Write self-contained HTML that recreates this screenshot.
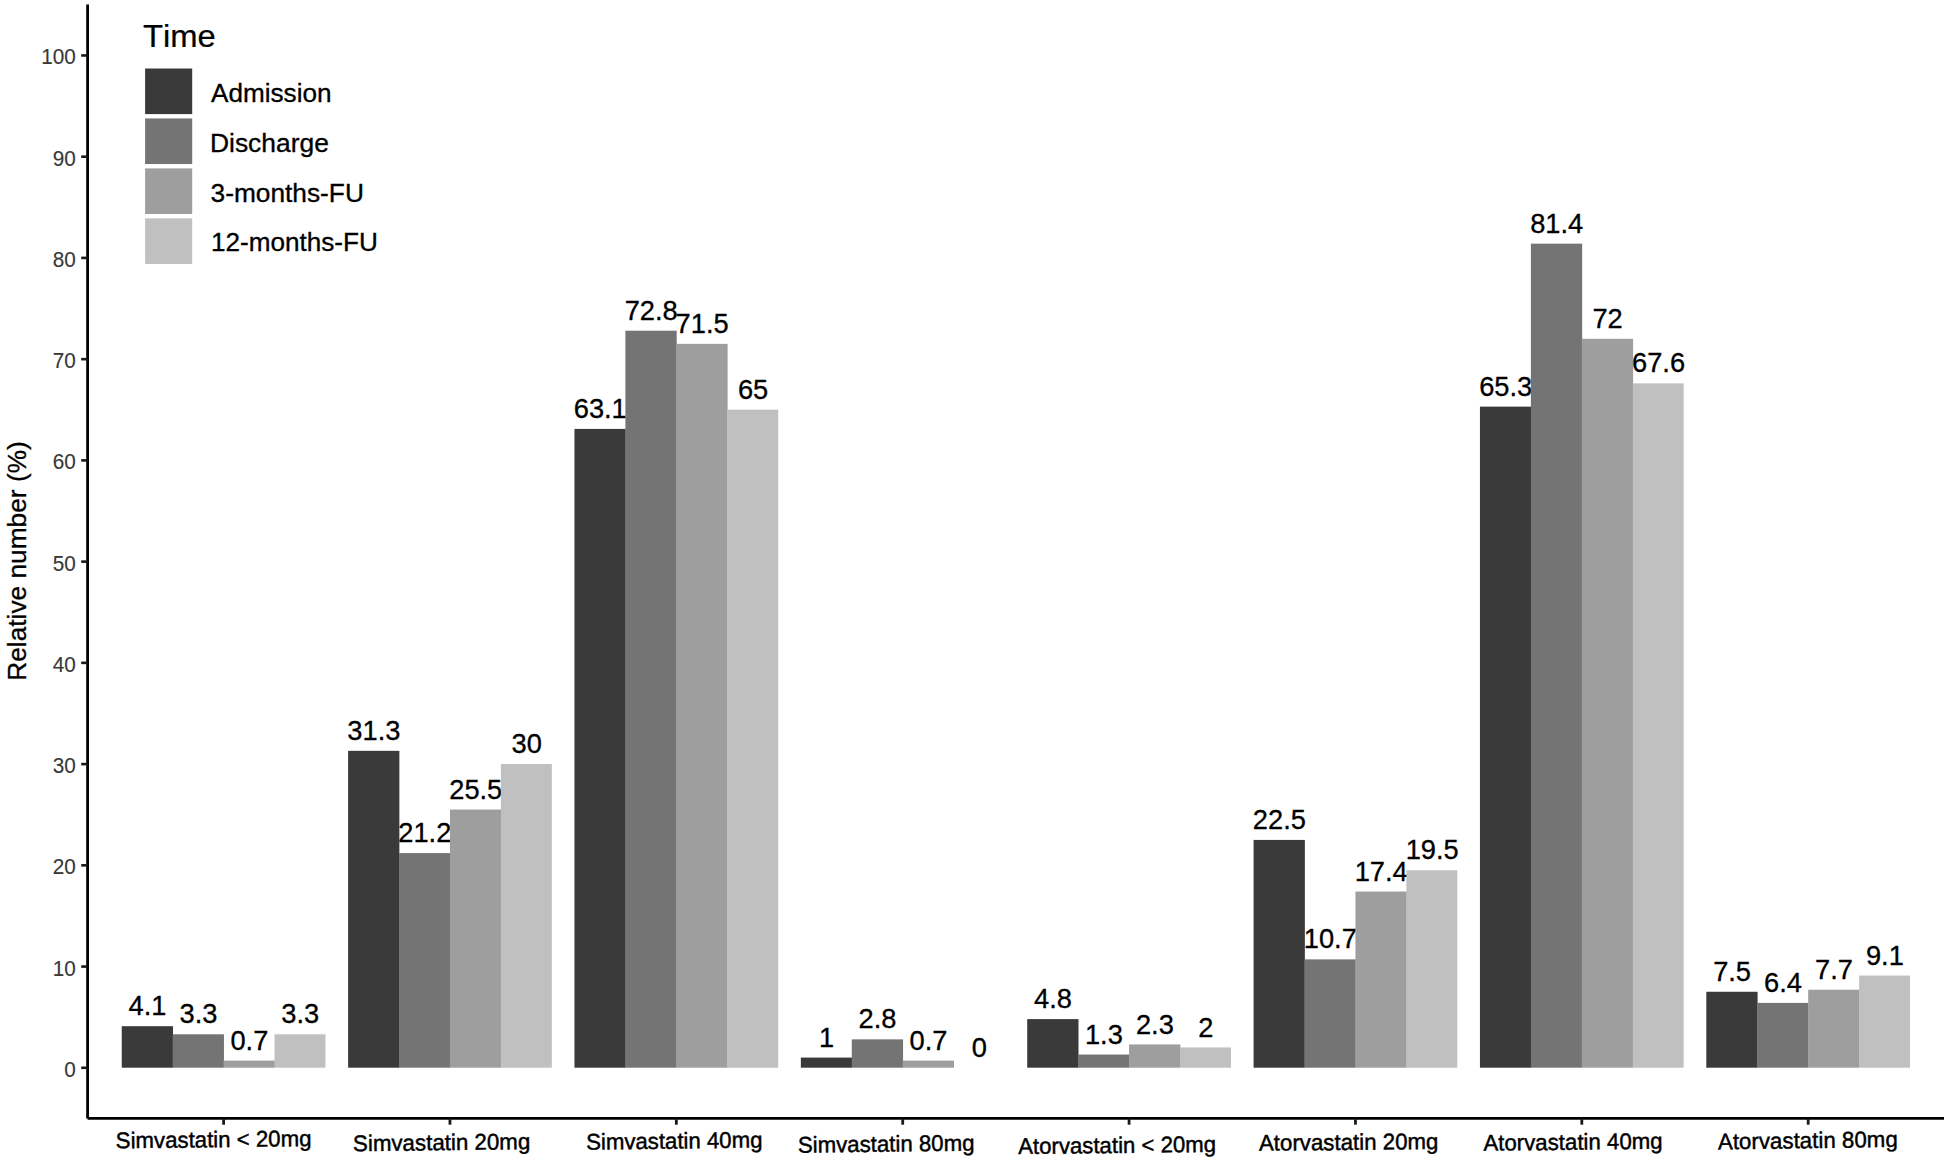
<!DOCTYPE html>
<html><head><meta charset="utf-8"><title>Statin dose chart</title>
<style>
html,body{margin:0;padding:0;background:#fff;}
body{width:1948px;height:1164px;overflow:hidden;}
svg{display:block;font-family:"Liberation Sans",Arial,Helvetica,sans-serif;font-kerning:none;}
.tk{font-size:22.9px;fill:#383838;text-anchor:end;stroke:#383838;stroke-width:0.15px;}
text{stroke:#000;stroke-width:0.32px;stroke-linejoin:round;}
.xl{font-size:22.7px;fill:#000;stroke-width:0.45px;}
.dl{font-size:27.0px;fill:#000;text-anchor:middle;}
.lg{font-size:25.3px;fill:#000;}
</style></head><body>
<svg width="1948" height="1164" viewBox="0 0 1948 1164">
<rect width="1948" height="1164" fill="#fff"/>
<rect x="121.73" y="1026.19" width="51.28" height="41.51" fill="#3a3a3a"/>
<text class="dl" transform="translate(147.50,1015.29) scale(1.01,1)">4.1</text>
<rect x="172.67" y="1034.29" width="51.28" height="33.41" fill="#747474"/>
<text class="dl" transform="translate(198.43,1023.39) scale(1.01,1)">3.3</text>
<rect x="223.60" y="1060.61" width="51.28" height="7.09" fill="#9e9e9e"/>
<text class="dl" transform="translate(249.37,1049.71) scale(1.01,1)">0.7</text>
<rect x="274.53" y="1034.29" width="50.93" height="33.41" fill="#c0c0c0"/>
<text class="dl" transform="translate(300.30,1023.39) scale(1.01,1)">3.3</text>
<rect x="348.10" y="750.83" width="51.28" height="316.87" fill="#3a3a3a"/>
<text class="dl" transform="translate(373.87,739.93) scale(1.01,1)">31.3</text>
<rect x="399.04" y="853.08" width="51.28" height="214.62" fill="#747474"/>
<text class="dl" transform="translate(424.80,842.18) scale(1.01,1)">21.2</text>
<rect x="449.97" y="809.55" width="51.28" height="258.15" fill="#9e9e9e"/>
<text class="dl" transform="translate(475.74,798.65) scale(1.01,1)">25.5</text>
<rect x="500.90" y="764.00" width="50.93" height="303.70" fill="#c0c0c0"/>
<text class="dl" transform="translate(526.67,753.10) scale(1.01,1)">30</text>
<rect x="574.47" y="428.91" width="51.28" height="638.79" fill="#3a3a3a"/>
<text class="dl" transform="translate(600.24,418.01) scale(1.01,1)">63.1</text>
<rect x="625.41" y="330.71" width="51.28" height="736.99" fill="#747474"/>
<text class="dl" transform="translate(651.17,319.81) scale(1.01,1)">72.8</text>
<rect x="676.34" y="343.87" width="51.28" height="723.83" fill="#9e9e9e"/>
<text class="dl" transform="translate(702.11,332.97) scale(1.01,1)">71.5</text>
<rect x="727.27" y="409.67" width="50.93" height="658.03" fill="#c0c0c0"/>
<text class="dl" transform="translate(753.04,398.77) scale(1.01,1)">65</text>
<rect x="800.84" y="1057.58" width="51.28" height="10.12" fill="#3a3a3a"/>
<text class="dl" transform="translate(826.61,1046.68) scale(1.01,1)">1</text>
<rect x="851.78" y="1039.35" width="51.28" height="28.35" fill="#747474"/>
<text class="dl" transform="translate(877.54,1028.45) scale(1.01,1)">2.8</text>
<rect x="902.71" y="1060.61" width="51.28" height="7.09" fill="#9e9e9e"/>
<text class="dl" transform="translate(928.48,1049.71) scale(1.01,1)">0.7</text>
<text class="dl" transform="translate(979.41,1056.80) scale(1.01,1)">0</text>
<rect x="1027.21" y="1019.11" width="51.28" height="48.59" fill="#3a3a3a"/>
<text class="dl" transform="translate(1052.98,1008.21) scale(1.01,1)">4.8</text>
<rect x="1078.15" y="1054.54" width="51.28" height="13.16" fill="#747474"/>
<text class="dl" transform="translate(1103.91,1043.64) scale(1.01,1)">1.3</text>
<rect x="1129.08" y="1044.42" width="51.28" height="23.28" fill="#9e9e9e"/>
<text class="dl" transform="translate(1154.85,1033.52) scale(1.01,1)">2.3</text>
<rect x="1180.01" y="1047.45" width="50.93" height="20.25" fill="#c0c0c0"/>
<text class="dl" transform="translate(1205.78,1036.55) scale(1.01,1)">2</text>
<rect x="1253.58" y="839.92" width="51.28" height="227.78" fill="#3a3a3a"/>
<text class="dl" transform="translate(1279.35,829.02) scale(1.01,1)">22.5</text>
<rect x="1304.52" y="959.38" width="51.28" height="108.32" fill="#747474"/>
<text class="dl" transform="translate(1330.28,948.48) scale(1.01,1)">10.7</text>
<rect x="1355.45" y="891.55" width="51.28" height="176.15" fill="#9e9e9e"/>
<text class="dl" transform="translate(1381.22,880.65) scale(1.01,1)">17.4</text>
<rect x="1406.38" y="870.29" width="50.93" height="197.41" fill="#c0c0c0"/>
<text class="dl" transform="translate(1432.15,859.39) scale(1.01,1)">19.5</text>
<rect x="1479.95" y="406.64" width="51.28" height="661.06" fill="#3a3a3a"/>
<text class="dl" transform="translate(1505.72,395.74) scale(1.01,1)">65.3</text>
<rect x="1530.89" y="243.65" width="51.28" height="824.05" fill="#747474"/>
<text class="dl" transform="translate(1556.65,232.75) scale(1.01,1)">81.4</text>
<rect x="1581.82" y="338.81" width="51.28" height="728.89" fill="#9e9e9e"/>
<text class="dl" transform="translate(1607.59,327.91) scale(1.01,1)">72</text>
<rect x="1632.75" y="383.35" width="50.93" height="684.35" fill="#c0c0c0"/>
<text class="dl" transform="translate(1658.52,372.45) scale(1.01,1)">67.6</text>
<rect x="1706.32" y="991.77" width="51.28" height="75.93" fill="#3a3a3a"/>
<text class="dl" transform="translate(1732.09,980.87) scale(1.01,1)">7.5</text>
<rect x="1757.26" y="1002.91" width="51.28" height="64.79" fill="#747474"/>
<text class="dl" transform="translate(1783.02,992.01) scale(1.01,1)">6.4</text>
<rect x="1808.19" y="989.75" width="51.28" height="77.95" fill="#9e9e9e"/>
<text class="dl" transform="translate(1833.96,978.85) scale(1.01,1)">7.7</text>
<rect x="1859.12" y="975.58" width="50.93" height="92.12" fill="#c0c0c0"/>
<text class="dl" transform="translate(1884.89,964.68) scale(1.01,1)">9.1</text>
<line x1="87.60" y1="4.6" x2="87.60" y2="1118.40" stroke="#000" stroke-width="2.8"/>
<line x1="87.60" y1="1118.40" x2="1944.00" y2="1118.40" stroke="#000" stroke-width="2.8"/>
<line x1="81.20" y1="1067.80" x2="87.60" y2="1067.80" stroke="#1a1a1a" stroke-width="2.6"/>
<text class="tk" transform="translate(75.7,1076.80) scale(0.905,1)">0</text>
<line x1="81.20" y1="966.57" x2="87.60" y2="966.57" stroke="#1a1a1a" stroke-width="2.6"/>
<text class="tk" transform="translate(75.7,975.57) scale(0.905,1)">10</text>
<line x1="81.20" y1="865.33" x2="87.60" y2="865.33" stroke="#1a1a1a" stroke-width="2.6"/>
<text class="tk" transform="translate(75.7,874.33) scale(0.905,1)">20</text>
<line x1="81.20" y1="764.10" x2="87.60" y2="764.10" stroke="#1a1a1a" stroke-width="2.6"/>
<text class="tk" transform="translate(75.7,773.10) scale(0.905,1)">30</text>
<line x1="81.20" y1="662.86" x2="87.60" y2="662.86" stroke="#1a1a1a" stroke-width="2.6"/>
<text class="tk" transform="translate(75.7,671.86) scale(0.905,1)">40</text>
<line x1="81.20" y1="561.63" x2="87.60" y2="561.63" stroke="#1a1a1a" stroke-width="2.6"/>
<text class="tk" transform="translate(75.7,570.63) scale(0.905,1)">50</text>
<line x1="81.20" y1="460.39" x2="87.60" y2="460.39" stroke="#1a1a1a" stroke-width="2.6"/>
<text class="tk" transform="translate(75.7,469.39) scale(0.905,1)">60</text>
<line x1="81.20" y1="359.16" x2="87.60" y2="359.16" stroke="#1a1a1a" stroke-width="2.6"/>
<text class="tk" transform="translate(75.7,368.16) scale(0.905,1)">70</text>
<line x1="81.20" y1="257.92" x2="87.60" y2="257.92" stroke="#1a1a1a" stroke-width="2.6"/>
<text class="tk" transform="translate(75.7,266.92) scale(0.905,1)">80</text>
<line x1="81.20" y1="156.69" x2="87.60" y2="156.69" stroke="#1a1a1a" stroke-width="2.6"/>
<text class="tk" transform="translate(75.7,165.69) scale(0.905,1)">90</text>
<line x1="81.20" y1="55.45" x2="87.60" y2="55.45" stroke="#1a1a1a" stroke-width="2.6"/>
<text class="tk" transform="translate(75.7,64.45) scale(0.905,1)">100</text>
<line x1="223.60" y1="1118.40" x2="223.60" y2="1124.7" stroke="#1a1a1a" stroke-width="2.8"/>
<text class="xl" transform="translate(115.82,1148.35) rotate(-0.66) scale(0.9788,1)">Simvastatin &lt; 20mg</text>
<line x1="449.97" y1="1118.40" x2="449.97" y2="1124.7" stroke="#1a1a1a" stroke-width="2.8"/>
<text class="xl" transform="translate(353.06,1151.20) rotate(-0.66) scale(0.9829,1)">Simvastatin 20mg</text>
<line x1="676.34" y1="1118.40" x2="676.34" y2="1124.7" stroke="#1a1a1a" stroke-width="2.8"/>
<text class="xl" transform="translate(586.17,1149.70) rotate(-0.72) scale(0.9784,1)">Simvastatin 40mg</text>
<line x1="902.71" y1="1118.40" x2="902.71" y2="1124.7" stroke="#1a1a1a" stroke-width="2.8"/>
<text class="xl" transform="translate(797.97,1152.70) rotate(-0.68) scale(0.9790,1)">Simvastatin 80mg</text>
<line x1="1129.08" y1="1118.40" x2="1129.08" y2="1124.7" stroke="#1a1a1a" stroke-width="2.8"/>
<text class="xl" transform="translate(1018.24,1154.10) rotate(-0.66) scale(0.9782,1)">Atorvastatin &lt; 20mg</text>
<line x1="1355.45" y1="1118.40" x2="1355.45" y2="1124.7" stroke="#1a1a1a" stroke-width="2.8"/>
<text class="xl" transform="translate(1258.95,1150.75) rotate(-0.55) scale(0.9816,1)">Atorvastatin 20mg</text>
<line x1="1581.82" y1="1118.40" x2="1581.82" y2="1124.7" stroke="#1a1a1a" stroke-width="2.8"/>
<text class="xl" transform="translate(1483.45,1150.75) rotate(-0.66) scale(0.9805,1)">Atorvastatin 40mg</text>
<line x1="1808.19" y1="1118.40" x2="1808.19" y2="1124.7" stroke="#1a1a1a" stroke-width="2.8"/>
<text class="xl" transform="translate(1718.05,1149.40) rotate(-0.78) scale(0.9827,1)">Atorvastatin 80mg</text>
<text transform="translate(26.2,680.82) rotate(-90) scale(1.0116,1)" font-size="26.0px" fill="#000">Relative number (%)</text>
<text transform="translate(142.98,47.0) scale(1.0380,1)" font-size="31.6px" fill="#000" style="stroke-width:0.22px">Time</text>
<rect x="145.1" y="68.50" width="47.1" height="45.6" fill="#3a3a3a"/>
<text class="lg" transform="translate(211.06,101.60) scale(1.0329,1)">Admission</text>
<rect x="145.1" y="118.45" width="47.1" height="45.6" fill="#747474"/>
<text class="lg" transform="translate(209.97,151.55) scale(1.0445,1)">Discharge</text>
<rect x="145.1" y="168.40" width="47.1" height="45.6" fill="#9e9e9e"/>
<text class="lg" transform="translate(210.62,201.50) scale(1.0386,1)">3-months-FU</text>
<rect x="145.1" y="218.35" width="47.1" height="45.6" fill="#c0c0c0"/>
<text class="lg" transform="translate(210.94,251.45) scale(1.0329,1)">12-months-FU</text>
</svg>
</body></html>
